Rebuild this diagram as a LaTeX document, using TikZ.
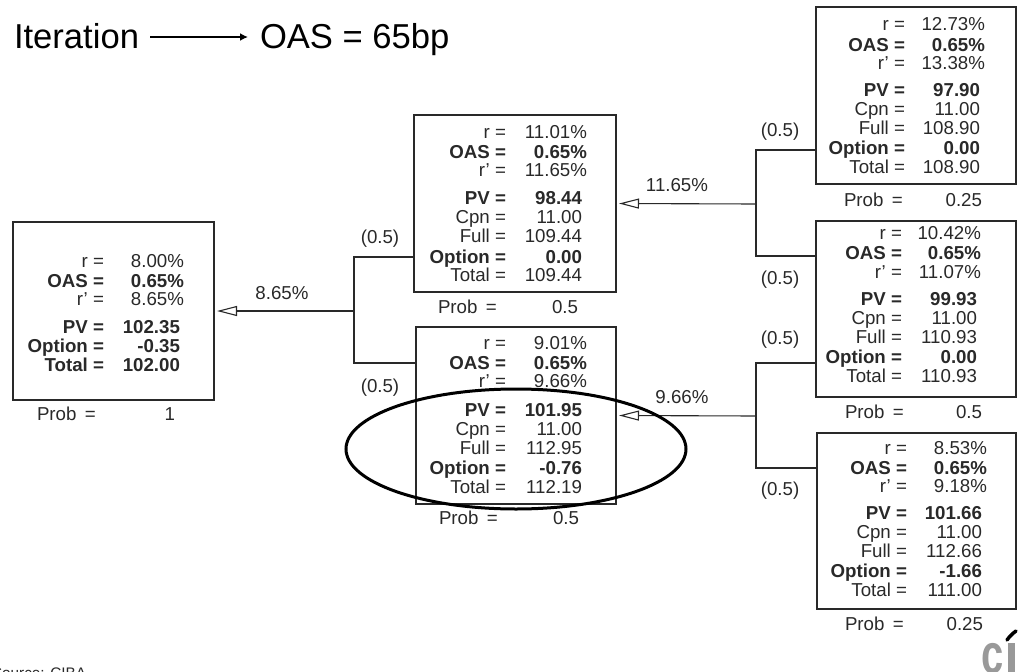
\documentclass[tikz,border=0pt]{standalone}
\usepackage{fontspec}
\setmainfont{Liberation Sans}
\usetikzlibrary{arrows.meta,shapes.geometric}
\definecolor{ink}{gray}{0.16}
\definecolor{logogray}{gray}{0.6}
\tikzset{
  every node/.style={font=\fontsize{18.7}{20}\selectfont, text=ink, inner sep=0pt, outer sep=0pt},
  boxnode/.style={draw=ink, line width=1.2pt, rectangle, anchor=north west},
  rowlab/.style={anchor=base east},
  rowval/.style={anchor=base east},
  boldrow/.style={font=\fontsize{18.7}{20}\selectfont\bfseries},
  problab/.style={anchor=base west},
  edgelab/.style={anchor=base},
  branch/.style={draw=ink, line width=1.1pt},
  arrowed/.style={draw=ink, line width=1.1pt, shorten >=3pt, -{Triangle[open, fill=white, length=20pt, width=10pt]}},
  titletext/.style={font=\fontsize{34.6}{36}\selectfont, text=black, text height=29pt, text depth=7pt},
  oval/.style={draw=black, line width=3pt, ellipse}
}
% \boxrow{id}{label right x}{value right x}{baseline y}{label}{value}{style}
\newcommand{\boxrow}[7]{%
  \node[rowlab,#7] (#1l) at (#2,#4) {#5};
  \node[rowval,#7] (#1v) at (#3,#4) {#6};
}
\begin{document}
\begin{tikzpicture}[x=1pt,y=-1pt]
\useasboundingbox (0,0) rectangle (1018,672);

% title
\node[titletext,anchor=base west] (tA) at (14,48) {Iteration};
\node[titletext,anchor=base west] (tB) at (260,48) {OAS = 65bp};
\draw[draw=black,line width=1.7pt,-{Latex[length=8pt,width=8pt]},shorten <=11pt,shorten >=12pt] (tA.east) -- (tB.west);

% boxes
\node[boxnode,minimum width=201pt,minimum height=178pt] (root) at (13,222) {};
\node[boxnode,minimum width=202pt,minimum height=177pt] (up) at (414,115) {};
\node[boxnode,minimum width=200pt,minimum height=177pt] (dn) at (416,327) {};
\node[boxnode,minimum width=200pt,minimum height=177pt] (uu) at (816,7) {};
\node[boxnode,minimum width=200pt,minimum height=176pt] (ud) at (816,221) {};
\node[boxnode,minimum width=199pt,minimum height=176pt] (dd) at (817,433) {};

% root text
\boxrow{a1}{104}{184}{267}{r =}{8.00\%}{}
\boxrow{a2}{104}{184}{287}{OAS =}{0.65\%}{boldrow}
\boxrow{a3}{104}{184}{305}{r' =}{8.65\%}{}
\boxrow{a4}{104}{180}{333}{PV =}{102.35}{boldrow}
\boxrow{a5}{104}{180}{352}{Option =}{-0.35}{boldrow}
\boxrow{a6}{104}{180}{371}{Total =}{102.00}{boldrow}
\node[problab] (pa) at (37,420) {Prob \,=};
\node[rowval] (pav) at (175,420) {1};

% up text
\boxrow{b1}{506}{587}{138}{r =}{11.01\%}{}
\boxrow{b2}{506}{587}{158}{OAS =}{0.65\%}{boldrow}
\boxrow{b3}{506}{587}{176}{r' =}{11.65\%}{}
\boxrow{b4}{506}{582}{204}{PV =}{98.44}{boldrow}
\boxrow{b5}{506}{582}{223}{Cpn =}{11.00}{}
\boxrow{b6}{506}{582}{242}{Full =}{109.44}{}
\boxrow{b7}{506}{582}{263}{Option =}{0.00}{boldrow}
\boxrow{b8}{506}{582}{281}{Total =}{109.44}{}
\node[problab] (pb) at (438,313) {Prob \,=};
\node[rowval] (pbv) at (578,313) {0.5};

% down text
\boxrow{c1}{506}{587}{349}{r =}{9.01\%}{}
\boxrow{c2}{506}{587}{369}{OAS =}{0.65\%}{boldrow}
\boxrow{c3}{506}{587}{387}{r' =}{9.66\%}{}
\boxrow{c4}{506}{582}{416}{PV =}{101.95}{boldrow}
\boxrow{c5}{506}{582}{435}{Cpn =}{11.00}{}
\boxrow{c6}{506}{582}{454}{Full =}{112.95}{}
\boxrow{c7}{506}{582}{474}{Option =}{-0.76}{boldrow}
\boxrow{c8}{506}{582}{493}{Total =}{112.19}{}
\node[problab] (pc) at (439,524) {Prob \,=};
\node[rowval] (pcv) at (579,524) {0.5};

% uu text
\boxrow{d1}{905}{985}{30}{r =}{12.73\%}{}
\boxrow{d2}{905}{985}{51}{OAS =}{0.65\%}{boldrow}
\boxrow{d3}{905}{985}{69}{r' =}{13.38\%}{}
\boxrow{d4}{905}{980}{96}{PV =}{97.90}{boldrow}
\boxrow{d5}{905}{980}{115}{Cpn =}{11.00}{}
\boxrow{d6}{905}{980}{134}{Full =}{108.90}{}
\boxrow{d7}{905}{980}{154}{Option =}{0.00}{boldrow}
\boxrow{d8}{905}{980}{173}{Total =}{108.90}{}
\node[problab] (pd) at (844,206) {Prob \,=};
\node[rowval] (pdv) at (982,206) {0.25};

% ud text
\boxrow{e1}{902}{981}{239}{r =}{10.42\%}{}
\boxrow{e2}{902}{981}{259}{OAS =}{0.65\%}{boldrow}
\boxrow{e3}{902}{981}{278}{r' =}{11.07\%}{}
\boxrow{e4}{902}{977}{305}{PV =}{99.93}{boldrow}
\boxrow{e5}{902}{977}{324}{Cpn =}{11.00}{}
\boxrow{e6}{902}{977}{343}{Full =}{110.93}{}
\boxrow{e7}{902}{977}{363}{Option =}{0.00}{boldrow}
\boxrow{e8}{902}{977}{382}{Total =}{110.93}{}
\node[problab] (pe) at (845,418) {Prob \,=};
\node[rowval] (pev) at (982,418) {0.5};

% dd text
\boxrow{f1}{907}{987}{454}{r =}{8.53\%}{}
\boxrow{f2}{907}{987}{474}{OAS =}{0.65\%}{boldrow}
\boxrow{f3}{907}{987}{492}{r' =}{9.18\%}{}
\boxrow{f4}{907}{982}{519}{PV =}{101.66}{boldrow}
\boxrow{f5}{907}{982}{538}{Cpn =}{11.00}{}
\boxrow{f6}{907}{982}{557}{Full =}{112.66}{}
\boxrow{f7}{907}{982}{577}{Option =}{-1.66}{boldrow}
\boxrow{f8}{907}{982}{596}{Total =}{111.00}{}
\node[problab] (pf) at (845,630) {Prob \,=};
\node[rowval] (pfv) at (983,630) {0.25};

% connector hubs
\coordinate (h0) at (354,311);
\coordinate (h0u) at (354,257);
\coordinate (h0d) at (354,363);
\coordinate (h1) at (756,204);
\coordinate (h1u) at (756,150);
\coordinate (h1d) at (756,256);
\coordinate (h2) at (756,416);
\coordinate (h2u) at (756,363);
\coordinate (h2d) at (756,468);

\draw[branch] (h0u -| up.west) -- (h0u) -- (h0d) -- (h0d -| dn.west);
\draw[branch] (h1u -| uu.west) -- (h1u) -- (h1d) -- (h1d -| ud.west);
\draw[branch] (h2u -| ud.west) -- (h2u) -- (h2d) -- (h2d -| dd.west);
\draw[arrowed] (h0) -- (root.east);
\draw[arrowed] (h1) -- (up.east);
\draw[arrowed] (h2) -- (dn.east);

% connector labels
\node[edgelab] (l1) at (282,299) {8.65\%};
\node[edgelab] (l2) at (677,191) {11.65\%};
\node[edgelab] (l3) at (682,403) {9.66\%};
\node[edgelab] (q1) at (380,243) {(0.5)};
\node[edgelab] (q2) at (380,392) {(0.5)};
\node[edgelab] (q3) at (780,136) {(0.5)};
\node[edgelab] (q4) at (780,284) {(0.5)};
\node[edgelab] (q5) at (780,344) {(0.5)};
\node[edgelab] (q6) at (780,495) {(0.5)};

% highlight
\node[oval,minimum width=340pt,minimum height=120pt] (ring) at (516,449) {};

% source, cut by the page edge as in the reference
\node[anchor=base west,font=\fontsize{15.3}{16}\selectfont] (src) at (-8,678) {Source: CIBA};

% logo, cut by the page edge as in the reference
\node[anchor=base west,font=\fontsize{40}{40}\selectfont\bfseries,text=logogray] (logo) at (981,673) {\scalebox{1}[1.4]{c}};
\fill[logogray] (1008,643) rectangle (1015,672);
\draw[black,line width=3.5pt,line cap=round] (1007,640) .. controls (1010,636) and (1012,634) .. (1016,631);
\end{tikzpicture}
\end{document}
